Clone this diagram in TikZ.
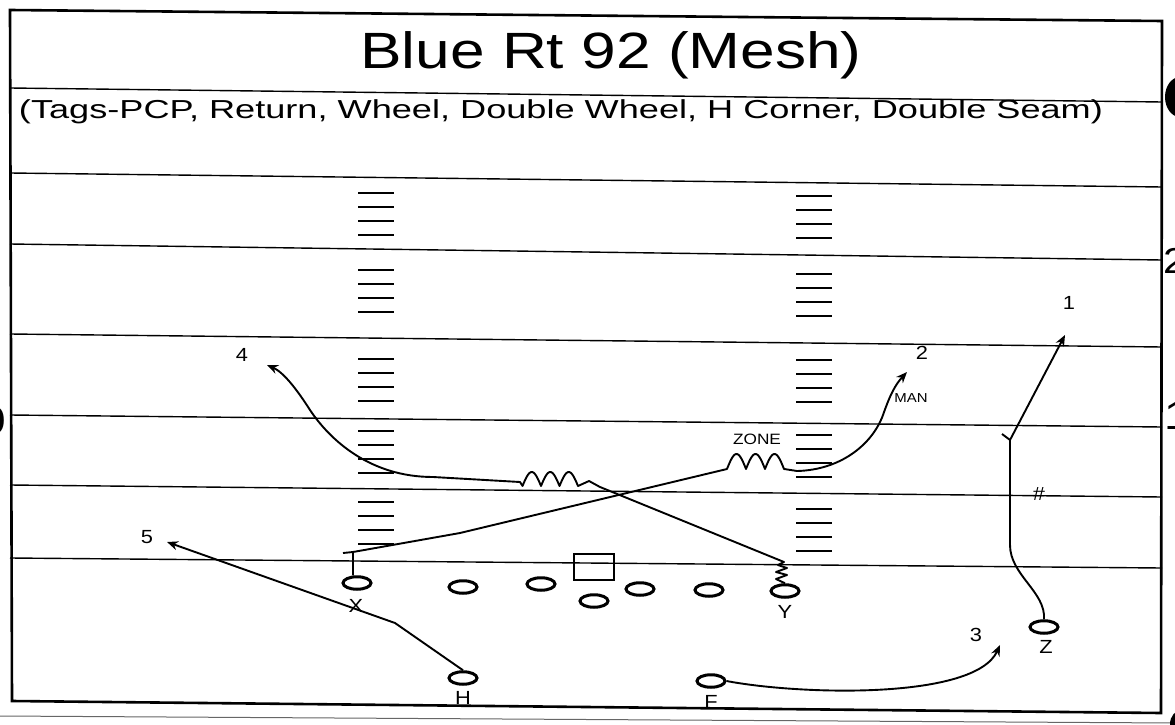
\documentclass[tikz,border=0pt]{standalone}
\usepackage{fontspec}
\setmainfont{Liberation Sans}
\newfontfamily\titlefont[FakeStretch=1.22]{Liberation Sans}
\newfontfamily\tagfont[FakeStretch=1.39]{Liberation Sans}
\newfontfamily\markfont[FakeStretch=1.15]{Liberation Sans}
\usetikzlibrary{arrows.meta, shapes.geometric}
\tikzset{
  player/.style={ellipse, draw, line width=3pt, minimum width=28pt,
    minimum height=12.5pt, inner sep=0pt},
  snapbox/.style={rectangle, draw, line width=2.8pt, minimum width=40pt,
    minimum height=26pt, inner sep=0pt},
  letter/.style={font=\markfont\fontsize{19}{19}\selectfont, inner sep=0pt},
  smalltag/.style={font=\markfont\fontsize{15}{15}\selectfont, inner sep=0pt},
  fieldline/.style={line width=1.4pt},
  hashline/.style={line width=1.5pt},
  route/.style={line width=1.9pt, line join=round},
  routearrow/.style={route, -{Stealth[length=11pt, width=9pt]}}
}

\begin{document}
\begin{tikzpicture}[x=1pt, y=-1pt]
  \useasboundingbox (0,0) rectangle (1175,725);

  % frame and field
  \draw[line width=2.6pt] (10,10) -- (1162,21) -- (1161,713) -- (12,701) -- cycle;
  \draw[line width=1pt, black!60] (0,716) -- (1175,723);
  \draw[fieldline] (10,88) -- (1162,102);
  \draw[fieldline] (10,173) -- (1162,187);
  \draw[fieldline] (10,244) -- (1162,260);
  \draw[fieldline] (10,334) -- (1162,347);
  \draw[fieldline] (10,415) -- (1162,427);
  \draw[fieldline] (10,485) -- (1162,497);
  \draw[fieldline] (10,558) -- (1162,568);

  % hash marks
  \foreach \c in {214,291,380,452,523}
    \foreach \d in {-21,-7,7,21}
      \draw[hashline] (358,{\c+\d}) -- ++(36,0);
  \foreach \c in {217,295,381,456,530}
    \foreach \d in {-21,-7,7,21}
      \draw[hashline] (796,{\c+\d}) -- ++(36,0);

  % page edge
  \begin{scope}
    \clip (0,0) rectangle (1175,725);
    \fill (1180,97) ellipse (15 and 20);
    \fill (1182,724) ellipse (12 and 14);
    \node[anchor=west, inner sep=0pt, font=\markfont\fontsize{36}{36}\selectfont] (yd2) at (1163,261) {2};
    \node[anchor=west, inner sep=0pt, font=\markfont\fontsize{40}{40}\selectfont] (yd1) at (1164,416) {1};
    \node[anchor=east, inner sep=0pt, font=\markfont\fontsize{40}{40}\selectfont] (yd0) at (6,421) {0};
  \end{scope}

  % titles
  \node[anchor=base, inner sep=0pt, font=\titlefont\fontsize{51}{51}\selectfont] (title) at (611,69) {Blue Rt 92 (Mesh)};
  \node[anchor=base, inner sep=0pt, font=\tagfont\fontsize{26}{26}\selectfont] (tags) at (561,118) {(Tags-PCP, Return, Wheel, Double Wheel, H Corner, Double Seam)};

  % formation
  \node[player] (X) at (357,583) {};
  \node[player] (LT) at (463,587) {};
  \node[player] (LG) at (541,584) {};
  \node[snapbox] (C) at (594,567) {};
  \node[player] (QB) at (594,601) {};
  \node[player] (RG) at (640,589) {};
  \node[player] (RT) at (709,590) {};
  \node[player] (Y) at (785,591) {};
  \node[player] (H) at (463,678) {};
  \node[player] (F) at (711,681) {};
  \node[player] (Z) at (1044,627) {};
  \node[letter] (Xl) at (356,606) {X};
  \node[letter] (Yl) at (785,612) {Y};
  \node[letter] (Hl) at (463,698) {H};
  \node[letter] (Fl) at (711,702) {F};
  \node[letter] (Zl) at (1046,647) {Z};

  % route ends
  \coordinate (one) at (1065,335);
  \coordinate (two) at (907,372);
  \coordinate (three) at (1000,645);
  \coordinate (four) at (267,365);
  \coordinate (five) at (167,542);
  \coordinate (zbreak) at (1010,440);

  \node[letter] (n1) at (1069,303) {1};
  \node[letter] (n2) at (922,353) {2};
  \node[letter] (n3) at (976,635) {3};
  \node[letter] (n4) at (242,355) {4};
  \node[letter] (n5) at (147,537) {5};
  \node[smalltag] (zone) at (757,439) {ZONE};
  \node[smalltag, font=\markfont\fontsize{13}{13}\selectfont] (man) at (911,398) {MAN};
  \node[letter] (hash) at (1039,494) {\#};

  % routes
  \draw[route] ([xshift=-4pt]X.north) -- (353,552) -- (343,553);
  \draw[routearrow] (353,552) -- (460,533) -- (727,469)
    -- plot[variable=\t, domain=0:3, samples=61] ({727+19*\t}, {469-15*abs(sin(180*\t))})
    -- (797,471) .. controls (840,470) and (872,445) .. (883,415)
    .. controls (890,395) and (895,385) .. (two);
  \draw[routearrow] (Y.north) -- (776,579) -- (787,575) -- (776,572) -- (787,568)
    -- (778,565) -- (784,562) -- (600,487) -- (589,481) -- (578,486)
    -- plot[variable=\t, domain=0:3, samples=61] ({578-18.5*\t}, {486-14*abs(sin(180*\t))})
    -- (520,482) -- (433,477) .. controls (370,477) and (330,440) .. (310,410)
    .. controls (296,388) and (283,372) .. (four);
  \draw[routearrow] (H.north) -- (395,623) -- (five);
  \draw[routearrow] (F.east) .. controls (800,695) and (975,700) .. (three);
  \draw[route] (Z.north) .. controls (1046,592) and (1010,575) .. (1010,545)
    -- (zbreak) -- (1002,434);
  \draw[routearrow] (zbreak) -- (one);
\end{tikzpicture}
\end{document}
